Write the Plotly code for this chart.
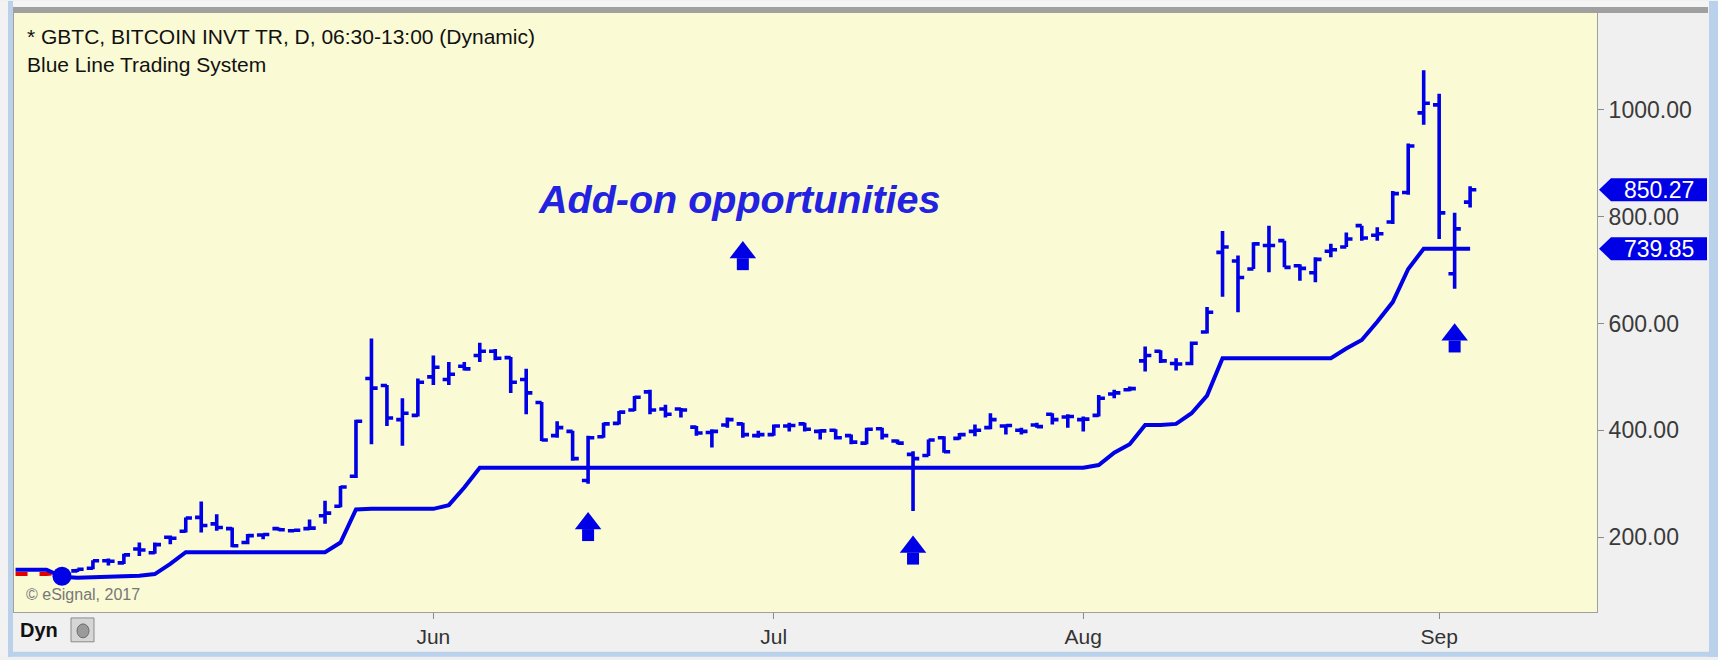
import pandas as pd
import plotly.graph_objects as go

# ---------------- data ----------------
holidays = ["2017-05-29", "2017-07-04", "2017-09-04"]
dates = [d.strftime("%Y-%m-%d") for d in pd.bdate_range("2017-04-24", "2017-09-06")
         if d.strftime("%Y-%m-%d") not in holidays]          # 95 trading days
bar_start = "2017-04-27"

bar_open = [132, 137,
            142, 156, 152, 178, 171, 200, 211, 237, 225, 216, 190, 204, 216, 212, 216, 240, 258, 314, 497, 484, 420, 428,
            500, 495, 520, 540, 548, 536, 495, 452, 390, 398, 306, 388, 413, 438, 472, 440, 440, 406, 396, 410, 412, 390,
            392, 408, 412, 398, 400, 390, 376, 403, 380, 355, 353, 386, 385, 398, 405, 408, 400, 410, 430, 425,
            420, 428, 468, 476, 530, 548, 525, 525, 584, 733, 717, 702, 746, 755, 708, 695, 735, 743, 783, 765, 790, 845, 994,
            1009, 693, 827]
bar_high = [138, 141,
            157, 160, 169, 190, 190, 203, 237, 267, 243, 218, 206, 206, 218, 215, 233, 268, 296, 420, 572, 485, 460, 497,
            540, 528, 528, 564, 552, 537, 515, 453, 417, 399, 390, 414, 436, 464, 476, 448, 442, 408, 402, 424, 414, 399,
            411, 414, 414, 402, 402, 392, 405, 405, 383, 361, 383, 389, 395, 411, 432, 411, 405, 414, 432, 430,
            426, 466, 476, 482, 557, 550, 535, 566, 631, 773, 727, 752, 783, 755, 711, 724, 749, 770, 783, 780, 848, 937, 1074,
            1030, 807, 857]
bar_low = [120, 135,
           140, 147, 150, 165, 169, 187, 209, 209, 212, 181, 187, 196, 212, 210, 215, 225, 256, 311, 374, 408, 371, 426,
           485, 485, 512, 528, 531, 470, 430, 380, 386, 343, 300, 386, 411, 436, 430, 424, 424, 390, 368, 405, 386, 386,
           390, 398, 398, 383, 383, 374, 374, 383, 374, 249, 352, 358, 383, 389, 402, 392, 392, 405, 411, 405,
           398, 426, 460, 473, 510, 526, 512, 522, 581, 650, 621, 702, 696, 705, 680, 677, 724, 743, 755, 755, 786, 841, 972,
           758, 665, 817]
bar_close = [128, 140,
             156, 155, 167, 176, 186, 198, 236, 222, 218, 184, 203, 205, 214, 213, 217, 245, 294, 417, 479, 423, 432, 490,
             518, 505, 515, 548, 535, 490, 470, 382, 405, 347, 386, 412, 434, 462, 438, 430, 438, 395, 398, 420, 392, 392,
             408, 409, 402, 399, 386, 378, 402, 390, 376, 347, 382, 360, 392, 400, 420, 409, 398, 407, 420, 426,
             421, 460, 470, 478, 540, 530, 524, 563, 621, 743, 686, 749, 746, 705, 703, 720, 738, 758, 760, 768, 843, 932, 1012,
             807, 777, 850.27]

blue_line = [139, 139, 139, 126, 124,
             125, 126, 127, 128, 131, 150, 172, 172, 172, 172, 172, 172, 172, 172, 172, 172, 190, 252, 253, 253, 253, 253,
             253, 260, 293, 330, 330, 330, 330, 330, 330, 330, 330, 330, 330, 330, 330, 330, 330, 330, 330, 330, 330, 330,
             330, 330, 330, 330, 330, 330, 330, 330, 330, 330, 330, 330, 330, 330, 330, 330, 330, 330, 330, 330,
             330, 335, 358, 374, 410, 410, 412, 432, 465, 535, 535, 535, 535, 535, 535, 535, 535, 553, 569, 603, 640, 702,
             739.85, 739.85, 739.85, 739.85]
red_line = [131, 131, 131, 134]          # prior (dashed) stop, first four days

signal_date, signal_value = "2017-04-27", 127
arrow_dates = ["2017-06-15", "2017-07-17", "2017-09-05"]
arrow_values = [220, 176, 573]
legend_arrow_date, legend_arrow_value = "2017-06-29", 727

month_starts = ["2017-06-01", "2017-07-03", "2017-08-01", "2017-09-01"]
month_labels = ["Jun", "Jul", "Aug", "Sep"]
y_ticks = [200, 400, 600, 800, 1000]

# ---------------- geometry / styles ----------------
W, H = 1718, 660
ML, MR, MT, MB = 14, 121, 12, 45
PW, PH = W - ML - MR, H - MT - MB
Y0, Y1 = 60, 1181
PPU = PH / (Y1 - Y0)
BLUE = "#0000E6"
FONT = "Liberation Sans"

idx = {d: i for i, d in enumerate(dates)}
bx = [idx[bar_start] + k for k in range(len(bar_open))]


def pxx(px):
    return (px - ML) / PW


def pxy(py):
    return 1 - (py - MT) / PH


fig = go.Figure()

fig.add_trace(go.Scatter(x=list(range(len(red_line))), y=red_line, mode="lines",
                         line=dict(color="#E00000", width=4, dash="dash"), hoverinfo="skip"))
fig.add_trace(go.Scatter(x=list(range(len(blue_line))), y=blue_line, mode="lines",
                         line=dict(color=BLUE, width=4), hoverinfo="skip"))
fig.add_trace(go.Scatter(x=[idx[signal_date]], y=[signal_value], mode="markers",
                         marker=dict(symbol="circle", size=19, color=BLUE), hoverinfo="skip"))
fig.add_trace(go.Ohlc(x=bx, open=bar_open, high=bar_high, low=bar_low, close=bar_close,
                      increasing=dict(line=dict(color=BLUE, width=3.6)),
                      decreasing=dict(line=dict(color=BLUE, width=3.6)),
                      tickwidth=0.4, hoverinfo="skip"))

# block arrows: triangle head + square stem
ax_all = [idx[d] for d in arrow_dates] + [idx[legend_arrow_date]]
av_all = arrow_values + [legend_arrow_value]
head_size, stem_size = 23, 12
r = head_size / 2
head_off = (r + (r / 2 + stem_size)) / 2 - r   # glyph centre offset from head centre (px, downward)
stem_off = r / 2 + stem_size / 2 - head_off
fig.add_trace(go.Scatter(x=ax_all, y=[v + head_off / PPU for v in av_all], mode="markers",
                         marker=dict(symbol="triangle-up", size=head_size, color=BLUE, line=dict(width=0)),
                         hoverinfo="skip"))
fig.add_trace(go.Scatter(x=ax_all, y=[v - stem_off / PPU for v in av_all], mode="markers",
                         marker=dict(symbol="square", size=stem_size, color=BLUE, line=dict(width=0)),
                         hoverinfo="skip"))

shapes = []
annotations = []

# window chrome
shapes.append(dict(type="rect", xref="paper", yref="paper", x0=pxx(0), x1=pxx(W), y0=pxy(0), y1=pxy(6),
                   fillcolor="#F4F4F4", line=dict(width=0), layer="below"))
shapes.append(dict(type="rect", xref="paper", yref="paper", x0=pxx(8), x1=pxx(W - 10), y0=pxy(6), y1=pxy(12),
                   fillcolor="#A0A0A0", line=dict(width=0)))
shapes.append(dict(type="rect", xref="paper", yref="paper", x0=pxx(0), x1=pxx(8), y0=pxy(0), y1=pxy(H),
                   fillcolor="#F2F2F2", line=dict(width=0)))
shapes.append(dict(type="rect", xref="paper", yref="paper", x0=pxx(8), x1=pxx(13), y0=pxy(0), y1=pxy(H),
                   fillcolor="#B9D1EA", line=dict(width=0)))
shapes.append(dict(type="rect", xref="paper", yref="paper", x0=pxx(W - 9), x1=pxx(W), y0=pxy(0), y1=pxy(H),
                   fillcolor="#B9D1EA", line=dict(width=0)))
shapes.append(dict(type="rect", xref="paper", yref="paper", x0=pxx(8), x1=pxx(W), y0=pxy(H - 5), y1=pxy(H),
                   fillcolor="#B9D1EA", line=dict(width=0)))
# lock button
shapes.append(dict(type="rect", xref="paper", yref="paper", x0=pxx(71), x1=pxx(94), y0=pxy(645), y1=pxy(621),
                   fillcolor="#D6D6D6", line=dict(color="#8A8A8A", width=1)))
shapes.append(dict(type="circle", xref="paper", yref="paper", x0=pxx(77), x1=pxx(89), y0=pxy(641), y1=pxy(627),
                   fillcolor="#9A9A9A", line=dict(color="#6A6A6A", width=1)))

# price tags on the right axis
half_h = 11.5
for val, txt in [(bar_close[-1], f"{bar_close[-1]:.2f}"), (blue_line[-1], f"{blue_line[-1]:.2f}")]:
    dh = half_h / PPU
    tip, bl, br = pxx(1599), pxx(1611), pxx(1707)
    path = (f"M {tip},{val} L {bl},{val + dh} L {br},{val + dh} L {br},{val - dh} "
            f"L {bl},{val - dh} Z")
    shapes.append(dict(type="path", xref="paper", yref="y", path=path, fillcolor="#0000E6",
                       line=dict(width=0)))
    annotations.append(dict(xref="paper", yref="y", x=pxx(1659), y=val, text=txt, showarrow=False,
                            xanchor="center", yanchor="middle",
                            font=dict(family=FONT, size=23, color="white")))

annotations += [
    dict(xref="paper", yref="paper", x=pxx(25), y=pxy(36), text="* GBTC, BITCOIN INVT TR, D, 06:30-13:00 (Dynamic)",
         showarrow=False, xanchor="left", yanchor="middle", font=dict(family=FONT, size=21, color="#111111")),
    dict(xref="paper", yref="paper", x=pxx(25), y=pxy(64), text="Blue Line Trading System",
         showarrow=False, xanchor="left", yanchor="middle", font=dict(family=FONT, size=21, color="#111111")),
    dict(xref="x", yref="y", x=idx[legend_arrow_date] - 0.2, y=832, text="<b><i>Add-on opportunities</i></b>",
         showarrow=False, xanchor="center", yanchor="middle",
         font=dict(family=FONT, size=39.5, color="#2222E0")),
    dict(xref="paper", yref="paper", x=pxx(24), y=pxy(597), text="© eSignal, 2017",
         showarrow=False, xanchor="left", yanchor="middle", font=dict(family=FONT, size=16, color="#777777")),
    dict(xref="paper", yref="paper", x=pxx(18), y=pxy(633), text="<b>Dyn</b>",
         showarrow=False, xanchor="left", yanchor="middle", font=dict(family=FONT, size=20, color="#111111")),
]

fig.update_layout(
    width=W, height=H, margin=dict(l=ML, r=MR, t=MT, b=MB),
    paper_bgcolor="#F0F0F0", plot_bgcolor="#FAFAD4", showlegend=False,
    shapes=shapes, annotations=annotations,
    xaxis=dict(range=[-0.1, 102.2], rangeslider=dict(visible=False),
               tickvals=[idx[d] for d in month_starts], ticktext=month_labels,
               ticks="outside", ticklen=6, tickcolor="#8A8A8A", showline=True, mirror=True,
               linecolor="#A0A0A0", linewidth=1, showgrid=False, zeroline=False,
               tickfont=dict(family=FONT, size=21, color="#333333")),
    yaxis=dict(range=[Y0, Y1], side="right", tickvals=y_ticks, tickformat=".2f",
               ticks="outside", ticklen=6, tickcolor="#8A8A8A", showline=True, mirror=True,
               linecolor="#A0A0A0", linewidth=1, showgrid=False, zeroline=False,
               tickfont=dict(family=FONT, size=23, color="#3A3A3A")),
)

fig.write_html("out.html", config={"displayModeBar": False},
               post_script="document.body.style.margin='0';")
